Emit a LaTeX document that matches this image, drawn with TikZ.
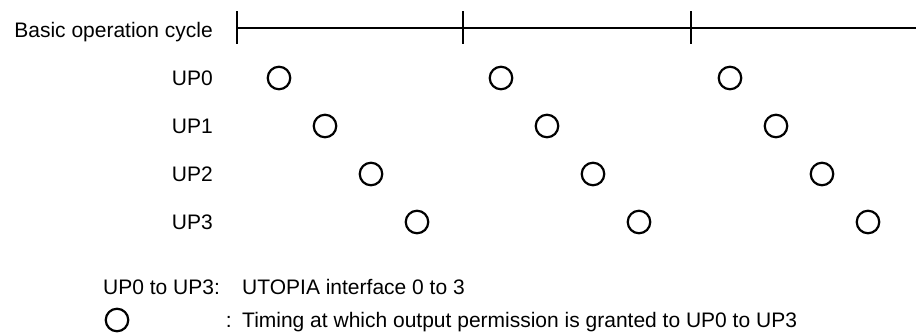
\documentclass[tikz,border=0pt]{standalone}
\usepackage{fontspec}
\setmainfont{Liberation Sans}
\begin{document}
\begin{tikzpicture}[x=1pt,y=-1pt,
  lbl/.style={font=\fontsize{21}{25}\selectfont, inner sep=0pt},
  slot/.style={circle, draw, line width=2.2pt, minimum size=22.5pt, inner sep=0pt},
  axis/.style={line width=2pt}]
\useasboundingbox (0,0) rectangle (916,335);
% time axis
\node[lbl, anchor=base east] (cyc) at (213,37) {Basic operation cycle};
\coordinate (ax0) at (237,28);
\coordinate (axend) at (916,28);
\draw[axis] (ax0) -- (axend);
\foreach \tx [count=\i] in {237,463,691}{
  \coordinate (tk\i a) at (\tx,11);
  \coordinate (tk\i b) at (\tx,44);
  \draw[axis] (tk\i a) -- (tk\i b);
}
% rows
\foreach \r in {0,1,2,3}{
  \node[lbl, anchor=base east] (up\r) at (213,{85+48*\r}) {UP\r};
  \foreach \cx [count=\c] in {279,501,730}{
    \node[slot] (s\c r\r) at ({\cx+46*\r},{78+48*\r}) {};
  }
}
% legend
\node[lbl, anchor=base west] (lg1a) at (103,294) {UP0 to UP3:};
\node[lbl, anchor=base west] (lg1b) at (242,294) {UTOPIA interface 0 to 3};
\node[slot] (lgc) at (117,320) {};
\node[lbl, anchor=base east] (lg2a) at (232,327) {:};
\node[lbl, anchor=base west] (lg2b) at (242,327) {Timing at which output permission is granted to UP0 to UP3};
\end{tikzpicture}
\end{document}
